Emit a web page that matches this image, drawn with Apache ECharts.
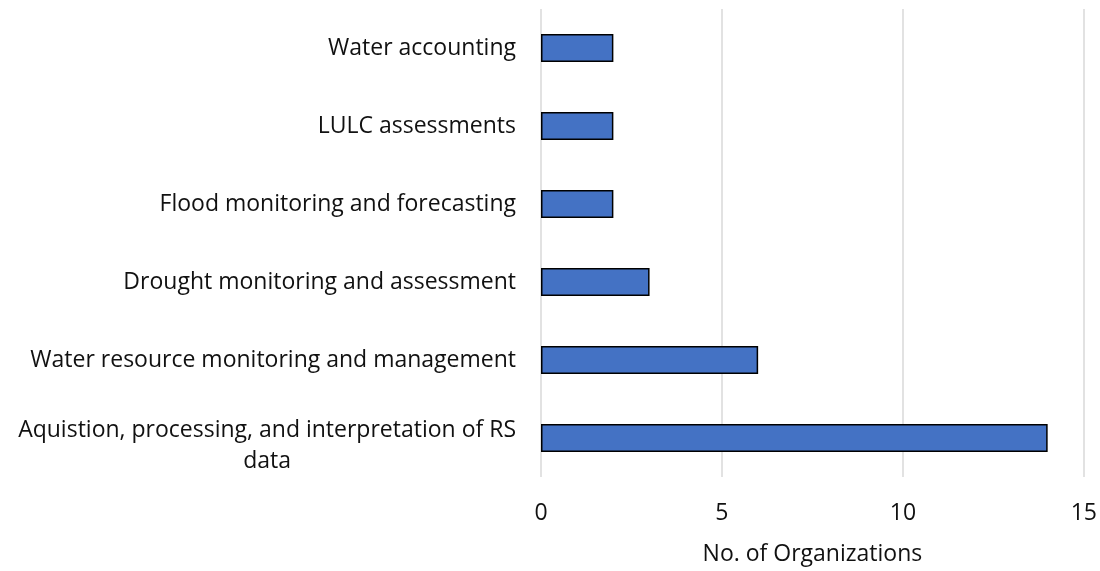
<!DOCTYPE html>
<html lang="en">

<head>
    <meta charset="utf-8">
    <title>No. of Organizations</title>
</head>
<script type="text/javascript" src="https://cdn.jsdelivr.net/npm/echarts@6/dist/echarts.min.js"></script>

<body style="margin: 0;">
    <div id="chart" style="width: 1100px; height: 571px;"></div>
</body>
<script type="text/javascript">
    // categories bottom -> top (category axis starts at the bottom)
    let categories = [
        'Aquistion, processing, and interpretation of RS data',
        'Water resource monitoring and management',
        'Drought monitoring and assessment',
        'Flood monitoring and forecasting',
        'LULC assessments',
        'Water accounting'
    ];
    let counts = [14, 6, 3, 2, 2, 2];
    let xTicks = [0, 5, 10, 15];

    let font = '"Open Sans", sans-serif';

    let myChart = echarts.init(document.getElementById('chart'));
    let option = {
        animation: false,
        grid: { left: 541, right: 16, top: 9, bottom: 90 },
        xAxis: {
            type: 'value',
            min: xTicks[0],
            max: xTicks[xTicks.length - 1],
            interval: xTicks[1] - xTicks[0],
            name: 'No. of Organizations',
            nameLocation: 'middle',
            nameGap: 66,
            nameTextStyle: { color: '#111', fontSize: 23, fontFamily: font },
            axisLine: { show: false },
            axisTick: { show: false },
            axisLabel: { color: '#111', fontSize: 23, fontFamily: font, margin: 25 },
            splitLine: { lineStyle: { color: '#d9d9d9', width: 1.5 } }
        },
        yAxis: {
            type: 'category',
            data: categories,
            axisLine: { show: false },
            axisTick: { show: false },
            axisLabel: {
                color: '#111', fontSize: 23, fontFamily: font, margin: 25,
                formatter: function (v) {
                    if (v.length > 45) {
                        // wrap the long label, second line centred, small spacer on top
                        let i = v.lastIndexOf(' ');
                        return '{s| }\n{c|' + v.slice(0, i) + '}\n{c|' + v.slice(i + 1) + '}';
                    }
                    return v;
                },
                rich: {
                    s: { fontSize: 4, lineHeight: 16 },
                    c: { align: 'center', color: '#111', fontSize: 23, fontFamily: font, lineHeight: 31 }
                }
            }
        },
        series: [{
            type: 'bar',
            data: counts,
            barWidth: 28,
            itemStyle: { color: '#4472C4', borderColor: '#000', borderWidth: 1.5 }
        }]
    };
    myChart.setOption(option);
</script>

</html>
